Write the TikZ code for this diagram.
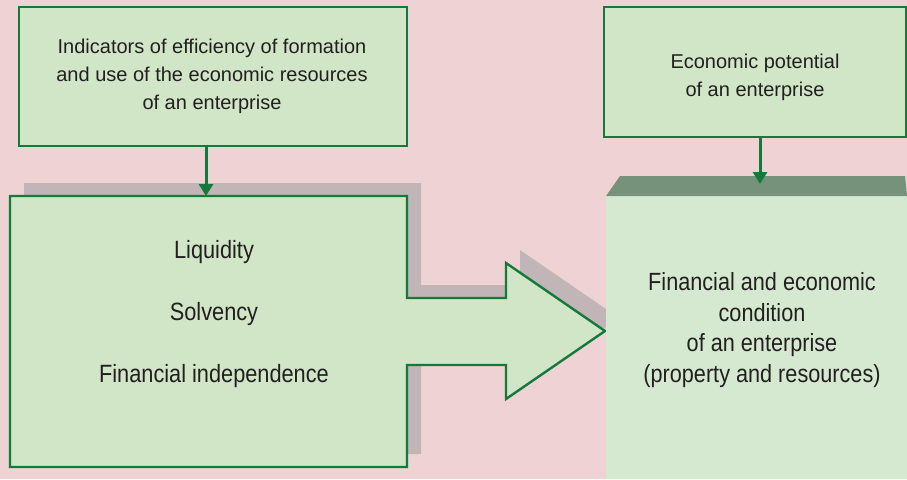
\documentclass[tikz,border=0pt]{standalone}
\usepackage{fontspec}
\setmainfont{Liberation Sans}
\newfontfamily\narrowfont{Liberation Sans}[FakeStretch=0.87]
\usetikzlibrary{arrows.meta}
\definecolor{bgpink}{HTML}{EFD3D4}
\definecolor{boxfill}{HTML}{D1E5C7}
\definecolor{rightfill}{HTML}{D5E9D0}
\definecolor{darktop}{HTML}{76927A}
\definecolor{bordergreen}{HTML}{147A3C}
\definecolor{shadowgrey}{HTML}{C1B5B7}
\definecolor{txt}{HTML}{231F20}
\tikzset{
  greenbox/.style={draw=bordergreen, line width=2.4pt, fill=boxfill, inner sep=0pt},
  toptext/.style={text=txt, align=center, font=\fontsize{20}{28}\selectfont},
  bigtext/.style={text=txt, align=center, font=\narrowfont\fontsize{25}{62}\selectfont},
  righttext/.style={text=txt, align=center, font=\narrowfont\fontsize{24.9}{30.7}\selectfont},
  conn/.style={draw=bordergreen, line width=3pt, -{Triangle[width=14pt,length=12pt]}},
  outline/.style={draw=bordergreen, line width=2.4pt, fill=boxfill, line join=miter}
}
\begin{document}
\begin{tikzpicture}[x=1pt,y=-1pt]
\useasboundingbox (0,0) rectangle (907,479);
\fill[bgpink] (0,0) rectangle (907,479);
% shadow of the left box with its arrow
\fill[shadowgrey] (24,183) -- (421,183) -- (421,285) -- (520,285) -- (520,250) -- (619,318) -- (520,386) -- (520,352) -- (421,352) -- (421,454) -- (24,454) -- cycle;
% left box with arrow
\draw[outline] (10,196) -- (407,196) -- (407,298) -- (506,298) -- (506,263) -- (605,331) -- (506,399) -- (506,365) -- (407,365) -- (407,467) -- (10,467) -- cycle;
\coordinate (lefttop) at (206,196);
\node[bigtext] (lefttext) at (214,314.5) {Liquidity\\Solvency\\Financial independence};
% right box
\fill[rightfill] (606,196) rectangle (907,479);
\fill[darktop] (620,176) -- (905,176) -- (907,196) -- (606,196) -- cycle;
\coordinate (righttop) at (760,184);
\node[righttext] (righttext) at (762,330) {Financial and economic\\condition\\of an enterprise\\(property and resources)};
% top boxes
\node[greenbox, minimum width=388pt, minimum height=139pt] (indbox) at (213,76.5) {};
\node[toptext] (indtext) at (212,76.5) {Indicators of efficiency of formation\\and use of the economic resources\\of an enterprise};
\node[greenbox, minimum width=302pt, minimum height=130pt] (potbox) at (755,72) {};
\node[toptext] (pottext) at (755,77.5) {Economic potential\\of an enterprise};
% connectors
\draw[conn] (indbox.south -| lefttop) -- (lefttop);
\draw[conn] (potbox.south -| righttop) -- (righttop);
\end{tikzpicture}
\end{document}
